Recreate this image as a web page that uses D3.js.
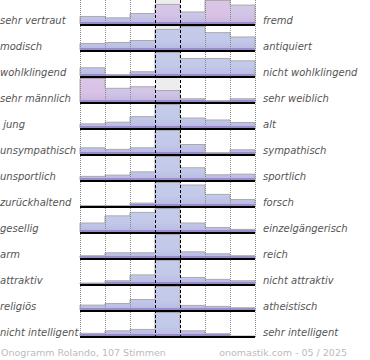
<!DOCTYPE html>
<html><head><meta charset="utf-8">
<script src="https://cdn.jsdelivr.net/npm/d3@7"></script>
<style>body{margin:0;background:#fff}svg{display:block}</style>
</head><body>
<svg id="c" width="370" height="360"></svg>
<script>
const leftLabels = ["sehr vertraut","modisch","wohlklingend","sehr männlich"," jung","unsympathisch","unsportlich","zurückhaltend","gesellig","arm","attraktiv","religiös","nicht intelligent"];
const rightLabels = ["fremd","antiquiert","nicht wohlklingend","sehr weiblich","alt","sympathisch","sportlich","forsch","einzelgängerisch","reich","nicht attraktiv","atheistisch","sehr intelligent"];
const scalePositions = [-3,-2,-1,0,1,2,3];
// relative vote shares per row
const votes = [
  [7.7, 6.3, 10.7, 20, 12.3, 24, 19.3],
  [6.7, 7.7, 9.7, 21, 24, 17.7, 13.3],
  [8.3, 1.3, 4.3, 23.7, 17.7, 17.7, 15.3],
  [24, 14, 15.6, 11.7, 3.3, 1.3, 3.3],
  [4.3, 6, 11.7, 24.3, 10.3, 8.3, 5.7],
  [6.3, 4.7, 6.3, 24, 9.7, 1.3, 4.3],
  [3.7, 5, 8.3, 24, 12.5, 5.3, 6],
  [0.3, 0.3, 3, 24.3, 21.7, 12, 6.7],
  [9.3, 16.7, 20.3, 24.3, 9.3, 4.7, 2.7],
  [2.3, 5.3, 5.3, 24, 6.3, 4.3, 2.3],
  [1, 3.3, 9.3, 24, 6.7, 4.7, 3.3],
  [5, 6.7, 10.7, 24, 4.7, 3.7, 2.3],
  [2.7, 5.3, 6.7, 24, 5.3, 2.3, 0]
];
// share of female voters per bar (drives the pink tint)
const femaleShare = [
  [0.1, 0.1, 0.2, 0.8, 0.4, 1, 0.75],
  [0,0,0,0,0,0,0],
  [0,0,0,0,0,0,0],
  [1, 0.6, 0.7, 0.5, 0.2, 0.2, 0.2],
  [0,0,0,0,0,0,0],
  [0,0,0,0,0,0,0],
  [0,0,0,0,0,0,0],
  [0,0,0,0,0,0,0],
  [0,0,0,0,0,0,0],
  [0,0,0,0,0,0,0],
  [0,0,0,0,0,0,0],
  [0,0,0,0,0,0,0],
  [0,0,0,0,0,0,0]
];
const footerLeft = "Onogramm Rolando, 107 Stimmen";
const footerRight = "onomastik.com - 05 / 2025";

const svg = d3.select("#c");
const nRows = votes.length;
const x = d3.scaleBand().domain(scalePositions).range([80,255]);
const y = d3.scaleBand().domain(d3.range(nRows)).range([0, 26*nRows]);
const areaH = 24, maxBar = 23.5;
const tint = d3.interpolateRgb("#c5ccea", "#dcc6e6");

const defs = svg.append("defs");
d3.range(nRows).forEach(i => {
  const g = defs.append("linearGradient").attr("id","sh"+i)
    .attr("gradientUnits","userSpaceOnUse")
    .attr("x1",0).attr("x2",0).attr("y1",y(i)).attr("y2",y(i)+areaH);
  g.append("stop").attr("offset","0").attr("stop-color","#8c78c8").attr("stop-opacity",0);
  g.append("stop").attr("offset","0.6").attr("stop-color","#8c78c8").attr("stop-opacity",0.04);
  g.append("stop").attr("offset","1").attr("stop-color","#8c78c8").attr("stop-opacity",0.22);
});

// middle column background
svg.append("g").selectAll("rect").data(d3.range(nRows)).join("rect")
  .attr("x", x(0)).attr("width", x.bandwidth())
  .attr("y", i => y(i)).attr("height", areaH)
  .attr("fill", "#ededed");

const rowsG = svg.append("g").selectAll("g").data(votes).join("g");
rowsG.each(function(row, i){
  const g = d3.select(this);
  const h = d3.scaleLinear().domain([0, d3.max(row)]).range([0, maxBar]);
  const bottom = y(i) + areaH;
  const bars = row.map((v,j)=>({v,j,pos:scalePositions[j]}));
  g.selectAll("rect.b").data(bars).join("rect").attr("class","b")
    .attr("x", d => x(d.pos)).attr("width", x.bandwidth())
    .attr("y", d => bottom - h(d.v)).attr("height", d => h(d.v))
    .attr("fill", d => tint(femaleShare[i][d.j]));
  g.selectAll("rect.s").data(bars).join("rect").attr("class","s")
    .attr("x", d => x(d.pos)).attr("width", x.bandwidth())
    .attr("y", d => bottom - h(d.v)).attr("height", d => h(d.v))
    .attr("fill", "url(#sh"+i+")");
  g.selectAll("rect.st").data(bars.filter(d=>d.v>0)).join("rect").attr("class","st")
    .attr("x", d => x(d.pos)).attr("width", x.bandwidth())
    .attr("y", d => bottom - Math.min(2, h(d.v))).attr("height", d => Math.min(2, h(d.v)))
    .attr("fill", "#9a8cca");
  // step outline
  let p = d3.path();
  p.moveTo(x(scalePositions[0]), bottom);
  bars.forEach(d => {
    p.lineTo(x(d.pos), bottom - h(d.v));
    p.lineTo(x(d.pos)+x.bandwidth(), bottom - h(d.v));
  });
  p.lineTo(x(scalePositions[6])+x.bandwidth(), bottom);
  g.append("path").attr("d", p.toString()).attr("fill","none")
    .attr("stroke","#aaa").attr("stroke-width",1);
});

// vertical grid lines
const gridX = scalePositions.map(p => x(p)).concat([x(3)+x.bandwidth()]);
svg.append("g").selectAll("line").data(gridX).join("line")
  .attr("x1", d => Math.round(d)+0.5).attr("x2", d => Math.round(d)+0.5)
  .attr("y1", 0).attr("y2", 26*nRows)
  .attr("stroke", (d,k) => (k===3||k===4) ? "#000" : "#888")
  .attr("stroke-width", 1)
  .attr("stroke-dasharray", (d,k) => (k===3||k===4) ? "3,2" : "1,1");

// baselines
svg.append("g").selectAll("line").data(d3.range(nRows)).join("line")
  .attr("x1", 80).attr("x2", 255)
  .attr("y1", i => y(i)+areaH+1).attr("y2", i => y(i)+areaH+1)
  .attr("stroke", "#000").attr("stroke-width", 2);

// labels
const font = "DejaVu Sans, Verdana, sans-serif";
svg.append("g").selectAll("text").data(leftLabels).join("text")
  .attr("x", 0).attr("y", (d,i) => y(i)+areaH)
  .style("white-space","pre")
  .attr("font-family", font).attr("font-style","italic").attr("font-size", 10)
  .attr("fill", "#555").text(d => d);
svg.append("g").selectAll("text").data(rightLabels).join("text")
  .attr("x", 263).attr("y", (d,i) => y(i)+areaH)
  .attr("font-family", font).attr("font-style","italic").attr("font-size", 10)
  .attr("fill", "#555").text(d => d);

svg.append("text").attr("x", 1).attr("y", 356)
  .attr("font-family", font).attr("font-size", 9.5).attr("fill", "#bbb").text(footerLeft);
svg.append("text").attr("x", 347).attr("y", 356).attr("text-anchor","end")
  .attr("font-family", font).attr("font-size", 9.5).attr("fill", "#bbb").text(footerRight);
</script>
</body></html>
